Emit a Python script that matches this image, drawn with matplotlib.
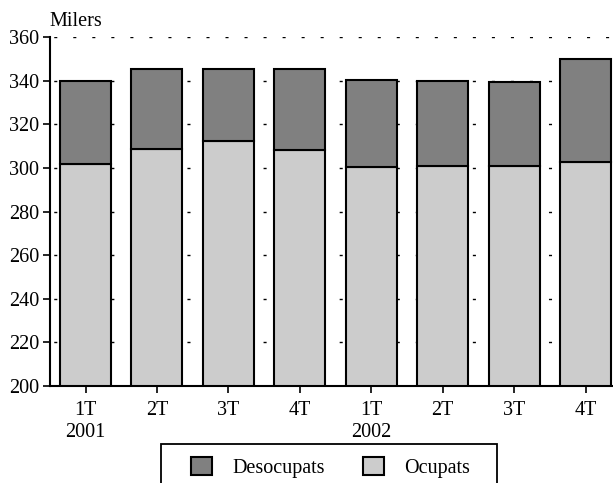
import matplotlib.pyplot as plt
from matplotlib.patches import Rectangle
import numpy as np

# Data (milers)
quarters = ['1T\n2001', '2T', '3T', '4T', '1T\n2002', '2T', '3T', '4T']
ocupats = [301.8, 308.7, 312.3, 308.2, 300.4, 300.9, 300.9, 302.7]
desocupats = [38.0, 36.6, 33.0, 37.1, 39.9, 38.9, 38.5, 47.2]

plt.rcParams['font.family'] = ['Liberation Serif', 'DejaVu Serif']

fig = plt.figure(figsize=(6.13, 4.83), dpi=100)
ax = fig.add_axes([0.0816, 0.2008, 0.9184, 0.7226])

x = np.arange(len(quarters))
ax.bar(x, ocupats, width=0.714, color='#cccccc', edgecolor='black',
       linewidth=1.5, label='Ocupats', zorder=2)
ax.bar(x, desocupats, bottom=ocupats, width=0.714, color='#808080',
       edgecolor='black', linewidth=1.5, label='Desocupats', zorder=2)

ax.set_ylim(200, 360)
ax.set_xlim(-0.497, 7.385)
ax.set_yticks(range(200, 361, 20))
ax.set_xticks(x)
ax.set_xticklabels(quarters, linespacing=1.2)
ax.tick_params(axis='both', labelsize=14.5, direction='out', length=5,
               width=1.2, colors='black')
ax.tick_params(axis='x', pad=6)
ax.tick_params(axis='y', pad=3)

ax.yaxis.grid(True, color='black', linewidth=1, linestyle=(11, (2.2, 11.5)),
              zorder=1)
ax.set_axisbelow(True)
for s in ['top', 'right']:
    ax.spines[s].set_visible(False)
for s in ['left', 'bottom']:
    ax.spines[s].set_linewidth(1.5)
    ax.spines[s].set_zorder(3)

fig.text(49 / 613, 1 - 21 / 483, 'Milers', fontsize=14.5, va='center', ha='left')

# legend box
fig.patches.append(Rectangle((161 / 613, -0.05), (497 - 161) / 613,
                             0.05 + (483 - 444) / 483, transform=fig.transFigure,
                             facecolor='white', edgecolor='black', linewidth=1.3))

handles, labels = ax.get_legend_handles_labels()
leg = fig.legend(handles[::-1], labels[::-1], loc='upper left',
                 bbox_to_anchor=(191 / 613, 1 - 457 / 483), ncol=2,
                 fontsize=14.5, frameon=False,
                 handlelength=1.05, handleheight=1.0, columnspacing=1.9,
                 handletextpad=1.0, borderpad=0, borderaxespad=0)

plt.savefig('out.png', dpi=100)
